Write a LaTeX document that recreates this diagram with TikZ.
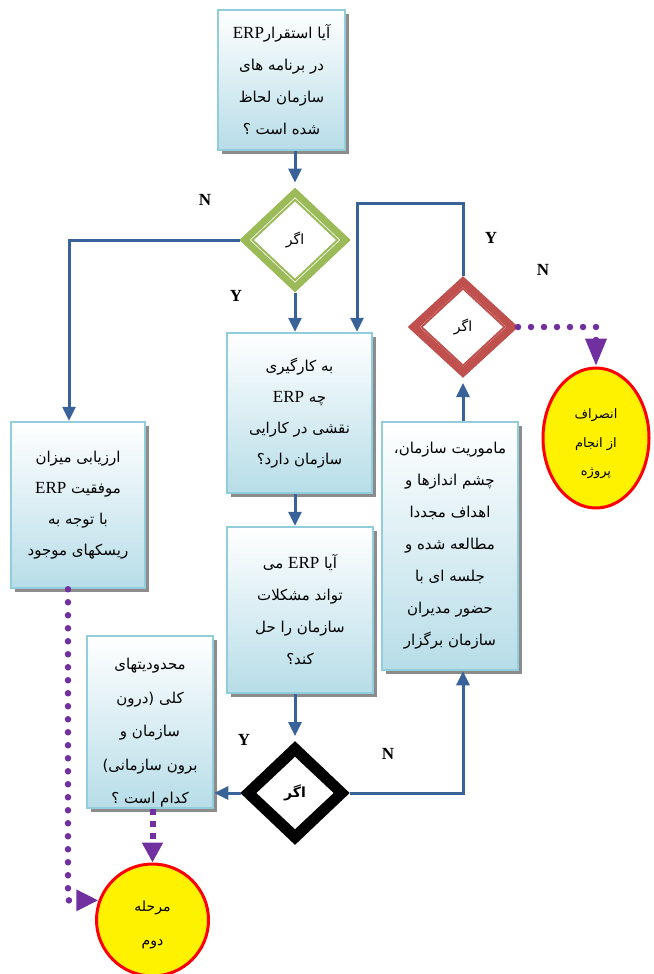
\documentclass[tikz,border=0pt]{standalone}
\usepackage{xcolor}
\usepackage{fontspec}
\usepackage{tikz}
\usetikzlibrary{shapes, shadows, arrows.meta, calc, positioning}
\setmainfont{Liberation Serif}
\newfontfamily\farsi[Script=Arabic]{DejaVu Sans}
\TeXXeTstate=1
\newcommand{\fa}[1]{{\farsi\beginR #1\endR}}
\newcommand{\erp}{\beginL{\rmfamily\fontsize{17}{17}\selectfont ERP}\endL}
\definecolor{boxline}{RGB}{146,205,220}
\definecolor{boxfill}{RGB}{183,221,232}
\definecolor{flowblue}{RGB}{56,98,152}
\definecolor{ifgreen}{RGB}{155,187,89}
\definecolor{ifred}{RGB}{192,80,77}
\definecolor{stoppurple}{RGB}{112,48,160}

\tikzset{
	stepbox/.style={draw=boxline, line width=2.5pt, top color=white, bottom color=boxfill, inner sep=0pt, align=center,
		font=\farsi\fontsize{15}{31}\selectfont, drop shadow={shadow xshift=4pt, shadow yshift=-4pt, fill=black!45, opacity=1}},
	ifnode/.style={diamond, fill=white, inner sep=0pt, font=\farsi\fontsize{14}{14}\selectfont},
	ifin/.style={diamond, draw=#1, line width=2pt, inner sep=0pt},
	stopnode/.style={ellipse, draw=red, line width=3pt, fill=yellow, inner sep=0pt, align=center},
	flow/.style={draw=flowblue, line width=3pt, -{Triangle[width=13pt,length=14pt]}},
	stopline/.style={draw=stoppurple, line width=6.5pt, line cap=round, dash pattern=on 0pt off 13pt, -{Triangle[width=20pt,length=22pt]}},
	sqline/.style={draw=stoppurple, line width=6pt, dash pattern=on 6pt off 6pt, -{Triangle[width=20pt,length=20pt]}},
	yn/.style={font=\rmfamily\bfseries\fontsize{17}{17}\selectfont}
}

\begin{document}
\begin{tikzpicture}[x=1pt, y=-1pt]
	\useasboundingbox (0,0) rectangle (653,974);
	
	% boxes
	\node[stepbox, minimum width=127pt, minimum height=140pt, font=\farsi\fontsize{15}{32}\selectfont] (b1) at (281.5,80)
		{\fa{آیا استقرار\erp}\\\fa{در برنامه های}\\\fa{سازمان لحاظ}\\\fa{شده است ؟}};
	\node[stepbox, minimum width=145pt, minimum height=160pt] (b2) at (299.5,413)
		{\fa{به کارگیری}\\\fa{چه \erp}\\\fa{نقشی در کارایی}\\\fa{سازمان دارد؟}};
	\node[stepbox, minimum width=146pt, minimum height=166pt, font=\farsi\fontsize{15}{32}\selectfont] (b3) at (300,610)
		{\rule{0pt}{0pt}\fa{آیا \erp{} می}\\\fa{تواند مشکلات}\\\fa{سازمان را حل}\\\fa{کند؟}};
	\node[stepbox, minimum width=134pt, minimum height=166pt] (bl) at (78,505)
		{\fa{ارزیابی میزان}\\\fa{موفقیت \erp}\\\fa{با توجه به}\\\fa{ریسکهای موجود}};
	\node[stepbox, minimum width=126pt, minimum height=172pt, font=\farsi\fontsize{15}{33.5}\selectfont] (bm) at (150,722)
		{\rule{0pt}{33pt}\fa{محدودیتهای}\\\fa{کلی (درون}\\\fa{سازمان و}\\\fa{برون سازمانی)}\\\fa{کدام است ؟}};
	\node[stepbox, minimum width=136pt, minimum height=248pt, font=\farsi\fontsize{15}{32}\selectfont] (br) at (450,546)
		{\fa{ماموریت سازمان،}\\\fa{چشم اندازها و}\\\fa{اهداف مجددا}\\\fa{مطالعه شده و}\\\fa{جلسه ای با}\\\fa{حضور مدیران}\\\fa{سازمان برگزار}};
	
	% decisions
	\node[ifnode, draw=ifgreen, line width=7pt, minimum width=104pt, minimum height=98pt] (g) at (295,240) {\fa{اگر}};
	\node[ifin=ifgreen, minimum width=86pt, minimum height=81pt] (g-in) at (g) {};
	\node[ifnode, draw=ifred, line width=8pt, minimum width=102pt, minimum height=94pt] (rd) at (463,327) {\fa{اگر}};
	\node[ifin=ifred, minimum width=84pt, minimum height=78pt] (rd-in) at (rd) {};
	\node[ifnode, draw=black, line width=9pt, minimum width=100pt, minimum height=95pt, font=\farsi\bfseries\fontsize{14}{14}\selectfont] (bd) at (295,793) {\fa{اگر}};
	\node[ifin=black, line width=2.5pt, minimum width=82pt, minimum height=77pt] (bd-in) at (bd) {};
	
	% ends
	\node[stopnode, minimum width=106pt, minimum height=140pt, font=\farsi\fontsize{13}{28.5}\selectfont] (ell) at (596,438)
		{\rule{0pt}{22pt}\fa{انصراف}\\\fa{از انجام}\\\fa{پروژه}};
	\node[stopnode, minimum width=112pt, minimum height=112pt, font=\farsi\fontsize{14}{34}\selectfont] (st) at (152.5,920)
		{\rule{0pt}{20pt}\fa{مرحله}\\\fa{دوم}};
	
	% connectors
	\draw[flow, shorten >=5pt] (b1.south -| g) -- (g.north);
	\draw[flow] (g.west) -| ([xshift=-9pt]bl.north);
	\draw[flow] (g.south) -- (b2.north -| g);
	\coordinate (yturn) at (357,203);
	\draw[flow] (rd.north) |- (yturn) -- (yturn |- b2.north);
	\draw[flow] (b2.south -| g) -- (b3.north -| g);
	\draw[flow, shorten >=5pt] (b3.south -| g) -- (bd.north);
	\draw[flow] (bd.west) -- (bd.west -| bm.east);
	\draw[flow] (bd.east) -| (rd |- br.south);
	\draw[flow, shorten >=5pt] (br.north -| rd) -- (rd.south);
	
	\draw[stopline, -{Triangle[width=20pt,length=28pt]}] (rd.east) -- (rd.east -| ell) -- (ell.north);
	\draw[stopline] ([xshift=-10pt]bl.south) |- (st.160);
	\draw[sqline] (bm.south -| st) -- (st.north);
	
	% labels
	\node[yn] (n1) at (205,200) {N};
	\node[yn] (y1) at (236,296) {Y};
	\node[yn] (y2) at (491,238) {Y};
	\node[yn] (n2) at (543,270) {N};
	\node[yn] (y3) at (244,740) {Y};
	\node[yn] (n3) at (388,754) {N};
\end{tikzpicture}
\end{document}
